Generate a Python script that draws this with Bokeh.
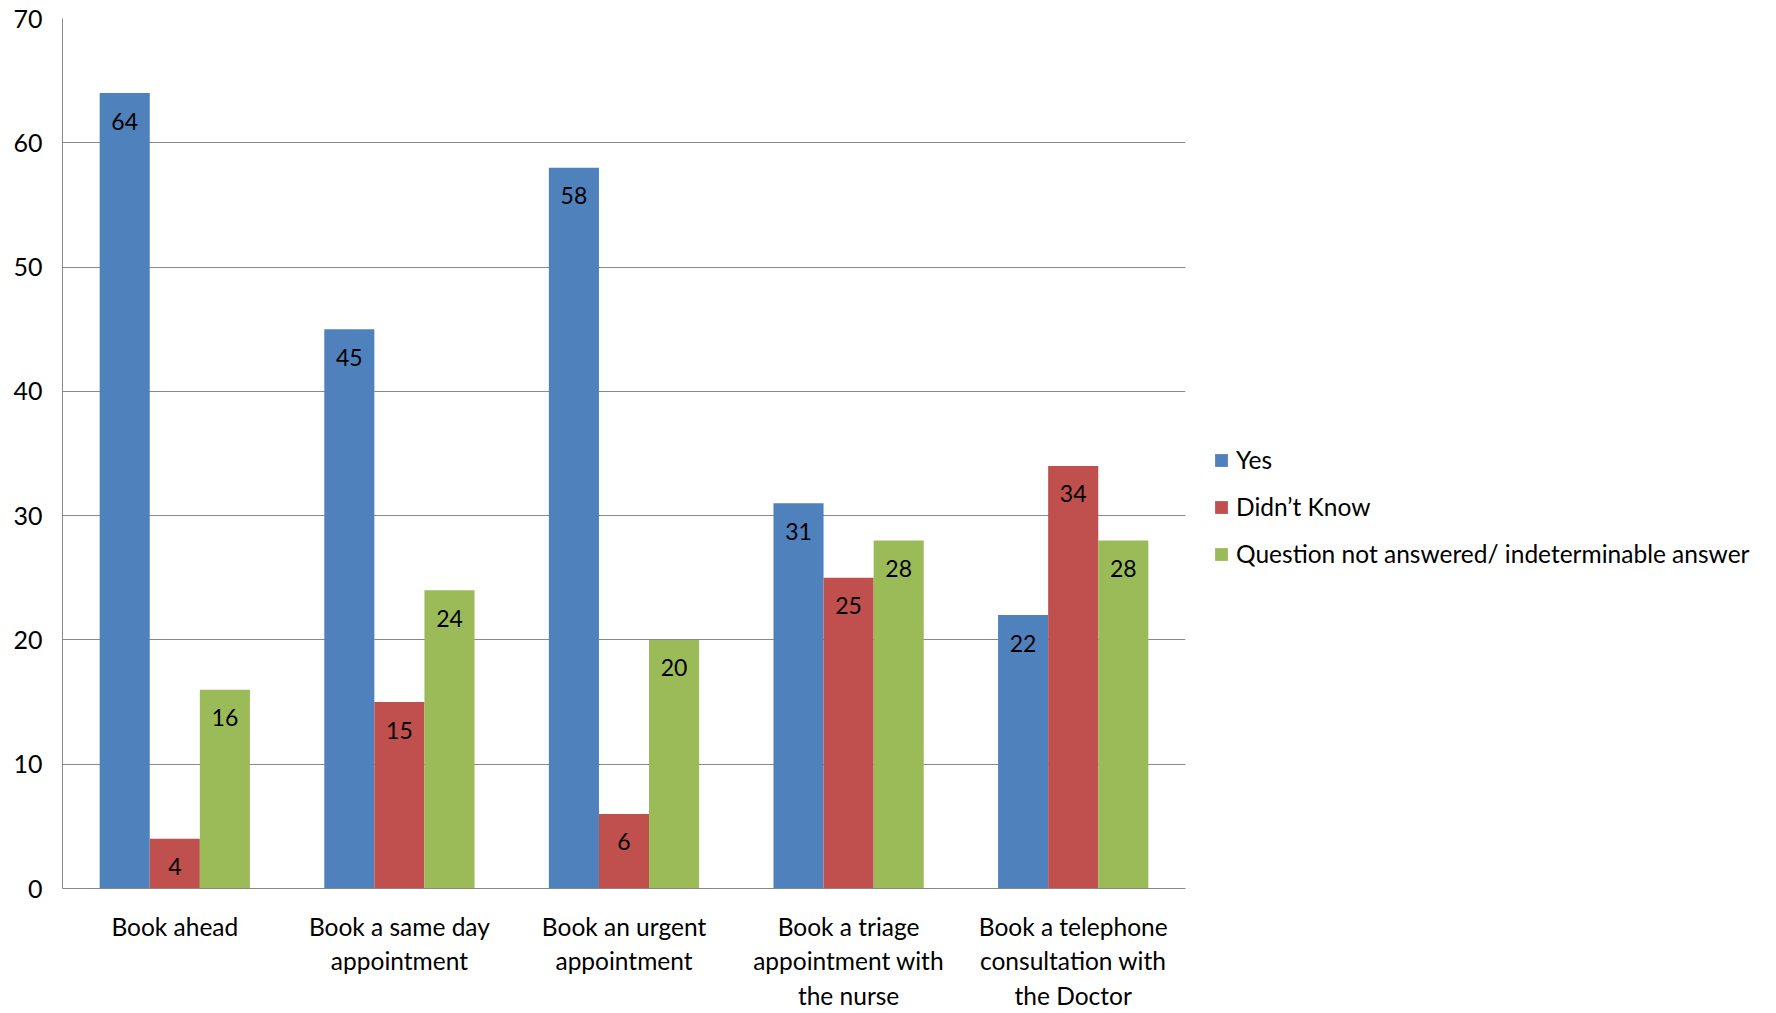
from bokeh.plotting import figure
from bokeh.layouts import row
from bokeh.models import FactorRange, Legend, LegendItem, ColumnDataSource
from bokeh.transform import dodge
from bokeh.core.properties import value
from bokeh.embed import file_html
from bokeh.resources import INLINE

categories = ["Book ahead", "Book a same day\nappointment", "Book an urgent\nappointment",
              "Book a triage\nappointment with\nthe nurse", "Book a telephone\nconsultation with\nthe Doctor"]
series_names = ["Yes", "Didn\u2019t Know", "Question not answered/ indeterminable answer"]
yes = [64, 45, 58, 31, 22]
didnt_know = [4, 15, 6, 25, 34]
not_answered = [16, 24, 20, 28, 28]
y_ticks = [0, 10, 20, 30, 40, 50, 60, 70]

colors = ["#4F81BD", "#C0504D", "#9BBB59"]
FONT = "Lato"
H = 1013

src = ColumnDataSource(dict(cat=categories, yes=yes, dk=didnt_know, na=not_answered,
                            yes_t=[str(v) for v in yes], dk_t=[str(v) for v in didnt_know],
                            na_t=[str(v) for v in not_answered]))

p = figure(x_range=FactorRange(*categories, range_padding=0), y_range=(0, 70),
           width=1190, height=H, output_backend="svg", toolbar_location=None,
           min_border_left=62, min_border_right=5, min_border_top=18, min_border_bottom=118)
p.outline_line_color = None
p.background_fill_color = "white"

bw = 0.223
for off, col, tcol, c in [(-bw, "yes", "yes_t", colors[0]), (0, "dk", "dk_t", colors[1]), (bw, "na", "na_t", colors[2])]:
    p.vbar(x=dodge("cat", off, range=p.x_range), top=col, width=bw, source=src,
           fill_color=c, line_color=None)
    p.text(x=dodge("cat", off, range=p.x_range), y=col, text=tcol, source=src,
           text_align="center", text_baseline="middle", y_offset=28,
           text_font=value(FONT), text_font_size="23px", text_color="black")

p.yaxis.ticker = y_ticks
p.ygrid.grid_line_color = "#898989"
p.ygrid.grid_line_width = 1
p.xgrid.grid_line_color = None

for ax in (p.xaxis, p.yaxis):
    ax.axis_line_color = "#898989"
    ax.major_tick_line_color = None
    ax.minor_tick_line_color = None
    ax.major_label_text_font = FONT
    ax.major_label_text_color = "black"
p.yaxis.major_label_text_font_size = "25px"
p.xaxis.major_label_text_font_size = "24.5px"
p.yaxis.major_label_standoff = 14
p.xaxis.major_label_standoff = 17

# legend panel to the right of the chart
p2 = figure(width=1760 - 1190, height=H, output_backend="svg", toolbar_location=None,
            x_axis_location=None, y_axis_location=None, min_border=0,
            x_range=(0, 1), y_range=(0, 1))
p2.outline_line_color = None
p2.grid.grid_line_color = None
dummies = [p2.vbar(x=[-10], bottom=[-6], top=[-5], width=0.1, fill_color=c, line_color=None)
           for c in colors]

legend = Legend(items=[LegendItem(label=n, renderers=[r]) for n, r in zip(series_names, dummies)],
                location=(23, 320), orientation="vertical")
legend.border_line_color = None
legend.background_fill_alpha = 0
legend.padding = 0
legend.margin = 0
legend.glyph_width = 16
legend.glyph_height = 16
legend.label_standoff = 7
legend.spacing = 18
legend.label_text_font = FONT
legend.label_text_font_size = "24.5px"
legend.label_text_color = "black"
p2.add_layout(legend, "center")

layout = row(p, p2)
open("out.html", "w").write(file_html(layout, INLINE))
